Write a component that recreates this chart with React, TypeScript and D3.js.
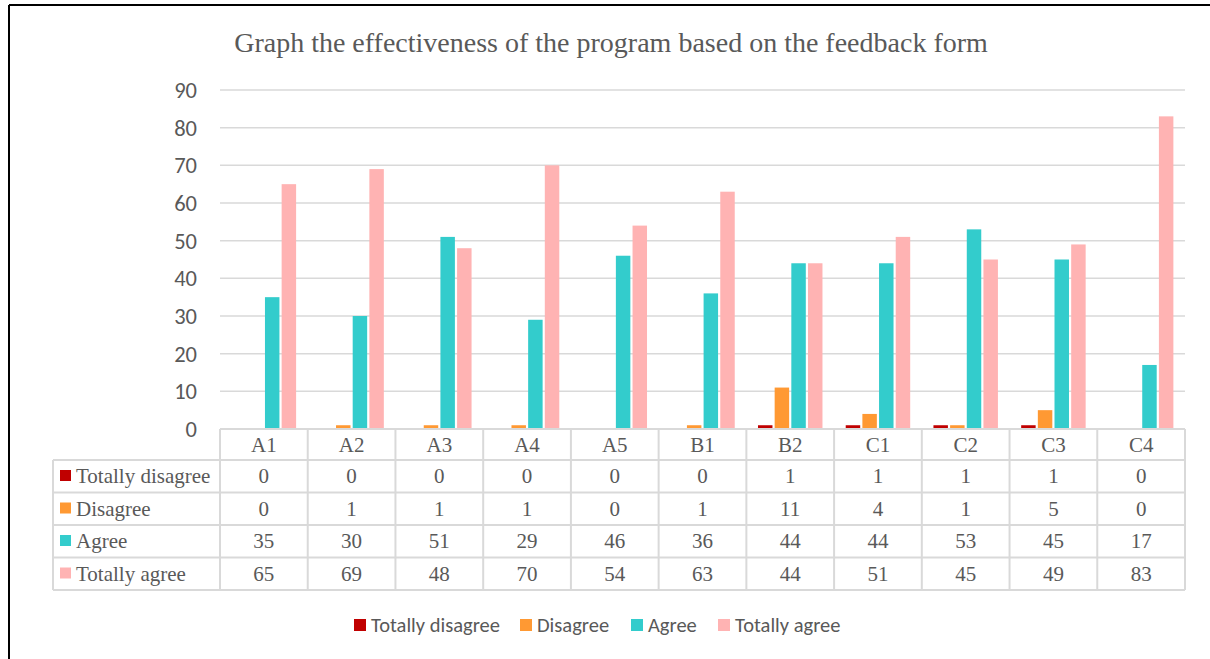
import React from "react";
import * as d3 from "d3";

const categories = ["A1", "A2", "A3", "A4", "A5", "B1", "B2", "C1", "C2", "C3", "C4"];
const seriesNames = ["Totally disagree", "Disagree", "Agree", "Totally agree"];
const totallyDisagree = [0, 0, 0, 0, 0, 0, 1, 1, 1, 1, 0];
const disagree = [0, 1, 1, 1, 0, 1, 11, 4, 1, 5, 0];
const agree = [35, 30, 51, 29, 46, 36, 44, 44, 53, 45, 17];
const totallyAgree = [65, 69, 48, 70, 54, 63, 44, 51, 45, 49, 83];
const yTicks = [0, 10, 20, 30, 40, 50, 60, 70, 80, 90];
const colors = ["#C00000", "#FF9933", "#33CCCC", "#FFB3B3"];

const series = [totallyDisagree, disagree, agree, totallyAgree];

export default function App() {
  const W = 1210, H = 659;
  const left = 220, right = 1185, top = 90, bottom = 429;
  const x = d3.scaleBand<string>().domain(categories).range([left, right]).padding(0);
  const y = d3.scaleLinear().domain([0, 90]).range([bottom, top]);
  const cw = x.bandwidth();
  const barW = cw * 0.165;
  const step = cw * 0.19;
  const groupW = step * 3 + barW;
  const tableLeft = 53;
  const rowH = 32.5;
  const headerTop = bottom;
  const rowsTop = 460;
  const gridColor = "#D9D9D9";
  const textColor = "#595959";
  const serif = "'Liberation Serif', 'Times New Roman', serif";
  const sans = "Carlito, Lato, 'Open Sans', sans-serif";

  const legendItems = [354, 520, 631, 718];

  return (
    <svg width={W} height={H} style={{ position: "absolute", left: 0, top: 0 }}>
      <rect x={0} y={0} width={W} height={H} fill="#fff" />
      <line x1={9} y1={5} x2={W} y2={5} stroke="#000" strokeWidth={2} />
      <line x1={9} y1={5} x2={9} y2={H} stroke="#000" strokeWidth={2} />
      <text x={611} y={52} textAnchor="middle" fontFamily={serif} fontSize={28} fill={textColor}>
        Graph the effectiveness of the program based on the feedback form
      </text>
      {yTicks.map((t) => (
        <g key={t}>
          {t > 0 && <line x1={left} x2={right} y1={y(t)} y2={y(t)} stroke={gridColor} strokeWidth={1.5} />}
          <text x={197} y={y(t)} dy="0.35em" textAnchor="end" fontFamily={sans} fontSize={22.5} fill={textColor}>
            {t}
          </text>
        </g>
      ))}
      {categories.map((c, i) =>
        series.map((s, k) => {
          const bx = (x(c) as number) + cw / 2 - groupW / 2 + k * step;
          const v = s[i];
          if (v <= 0) return null;
          return <rect key={c + k} x={bx} y={y(v)} width={barW} height={y(0) - y(v)} fill={colors[k]} />;
        })
      )}
      {/* table */}
      <g stroke={gridColor} strokeWidth={2} fill="none">
        <line x1={left} x2={right} y1={headerTop} y2={headerTop} />
        {d3.range(5).map((r) => (
          <line key={r} x1={tableLeft} x2={right} y1={rowsTop + r * rowH} y2={rowsTop + r * rowH} />
        ))}
        <line x1={tableLeft} x2={tableLeft} y1={rowsTop} y2={rowsTop + 4 * rowH} />
        {d3.range(12).map((j) => (
          <line key={j} x1={left + j * cw} x2={left + j * cw} y1={headerTop} y2={rowsTop + 4 * rowH} />
        ))}
      </g>
      {categories.map((c) => (
        <text key={c} x={(x(c) as number) + cw / 2} y={headerTop + 23} textAnchor="middle" fontFamily={serif} fontSize={21} fill={textColor}>
          {c}
        </text>
      ))}
      {series.map((s, k) => (
        <g key={k}>
          <rect x={60} y={rowsTop + k * rowH + 10} width={11} height={11} fill={colors[k]} />
          <text x={76} y={rowsTop + k * rowH + 23} fontFamily={serif} fontSize={21} fill={textColor}>
            {seriesNames[k]}
          </text>
          {categories.map((c, i) => (
            <text key={c} x={(x(c) as number) + cw / 2} y={rowsTop + k * rowH + 23} textAnchor="middle" fontFamily={serif} fontSize={21} fill={textColor}>
              {s[i]}
            </text>
          ))}
        </g>
      ))}
      {/* legend */}
      {seriesNames.map((n, k) => (
        <g key={n}>
          <rect x={legendItems[k]} y={619} width={12} height={12} fill={colors[k]} />
          <text x={legendItems[k] + 17} y={625} dy="0.35em" fontFamily={sans} fontSize={20.5} fill={textColor}>
            {n}
          </text>
        </g>
      ))}
    </svg>
  );
}
